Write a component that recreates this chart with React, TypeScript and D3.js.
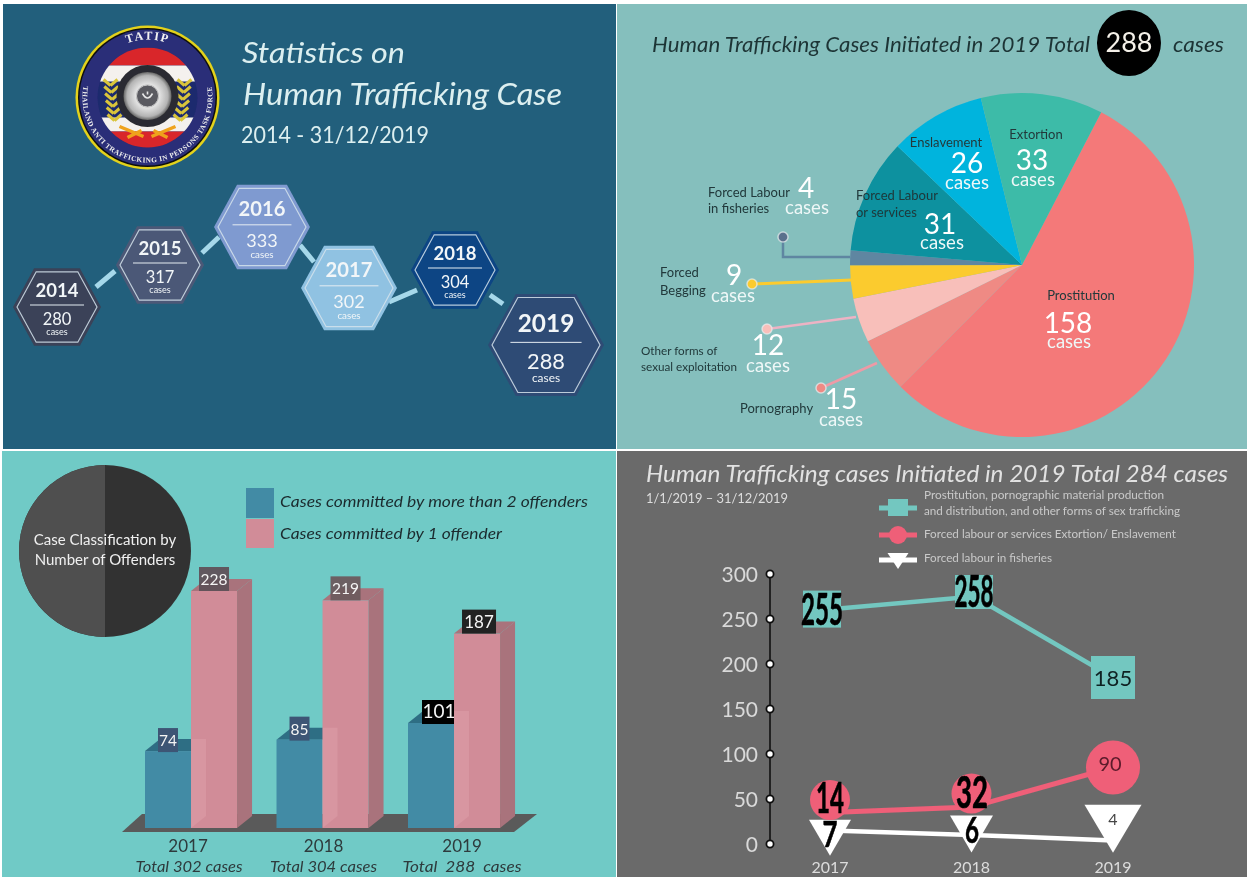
import React from "react";
import * as d3 from "d3";

// ---------- data ----------
const timelineYears = ["2014", "2015", "2016", "2017", "2018", "2019"];
const timelineCases = [280, 317, 333, 302, 304, 288];
const hexFills = ["#3A4258", "#4C5977", "#7F9AD0", "#90C2E2", "#0B4484", "#2F4B75"];

const pieNames = ["Prostitution", "Pornography", "Other", "Begging", "Fisheries", "Labour", "Enslavement", "Extortion"];
const pieValues = [158, 15, 12, 9, 4, 31, 26, 33];
const pieColors = ["#F47979", "#EF8A84", "#F8BFBA", "#FBCB2E", "#5E86A1", "#07919F", "#05B4DD", "#3DBBA8"];

const barYears = ["2017", "2018", "2019"];
const barTotals = ["Total 302 cases", "Total 304 cases", "Total  288  cases"];
const multiOffender = [74, 85, 101];
const singleOffender = [228, 219, 187];

const lineYears = ["2017", "2018", "2019"];
const axisTicks = [0, 50, 100, 150, 200, 250, 300];
const sexLabels = [255, 258, 185];
const labourLabels = [14, 32, 90];
const fisheryLabels = [7, 6, 4];
// heights the marks actually stand at on the printed axis (the infographic does not plot its labels to scale)
const sexLine = [260, 275, 185];
const sexMarker = [261, 280, 185];
const labourLine = [35, 41, 85];
const labourMarker = [49, 56, 85];
const fisheryLine = [15, 10, 4];
const fisheryMarker = [7, 11, 17];

// ---------- scales ----------
const hexX = d3.scaleOrdinal<string, number>(timelineYears, [57, 160, 262, 349, 455, 546]);
const hexY = d3.scaleOrdinal<string, number>(timelineYears, [307, 265, 227, 288, 270, 345]);
const hexR = d3.scaleOrdinal<string, number>(timelineYears, [44, 44, 48, 48, 44, 58]);
const linkOffsets = [[39, -20, -45, 6], [42, -12, -43, 10], [38, 18, -35, -26], [40, 14, -38, 20], [35, 25, -43, -41]];

const barX = d3.scaleBand<string>().domain(barYears).range([145, 145 + 131.5 * 3]).paddingInner(0).paddingOuter(0);
const barY = d3.scaleLinear().domain([0, 228]).range([828, 591]);

const lineY = d3.scaleLinear().domain([0, 300]).range([844, 574]);
const lineX = d3.scalePoint<string>().domain(lineYears).range([830, 1113]);
const sexX = d3.scaleOrdinal<string, number>(lineYears, [822, 974, 1113]);

const HEAD = "Lato, 'Open Sans', sans-serif";

function hexPoints(cx: number, cy: number, r: number) {
  const h = r * 0.88;
  const w = r * 0.52;
  return [[cx - r, cy], [cx - w, cy - h], [cx + w, cy - h], [cx + r, cy], [cx + w, cy + h], [cx - w, cy + h]].map((p) => p.join(",")).join(" ");
}

function Timeline() {
  const link = d3.line<[number, number]>();
  return (
    <g>
      {timelineYears.slice(1).map((y, i) => {
        const p = timelineYears[i];
        const o = linkOffsets[i];
        return <path key={y} d={link([[hexX(p) + o[0], hexY(p) + o[1]], [hexX(y) + o[2], hexY(y) + o[3]]]) || ""} stroke="#A6D8EA" strokeWidth={5} fill="none" />;
      })}
      {timelineYears.map((y, i) => {
        const cx = hexX(y), cy = hexY(y), r = hexR(y), s = r / 44;
        return (
          <g key={y} fontFamily={HEAD} textAnchor="middle" fill="#F2F6F8">
            <polygon points={hexPoints(cx, cy, r)} fill={hexFills[i]} />
            <polygon points={hexPoints(cx, cy, r - 4)} fill={hexFills[i]} stroke="#D5E3EC" strokeWidth={1.2} strokeOpacity={0.85} />
            <text x={cx} y={cy - 10 * s} fontSize={18.5 * s} fontWeight={700}>{y}</text>
            <line x1={cx - 27 * s} x2={cx + 27 * s} y1={cy - 2 * s} y2={cy - 2 * s} stroke="#E4ECF2" strokeWidth={1} />
            <text x={cx} y={cy + 18 * s} fontSize={16.5 * s}>{timelineCases[i]}</text>
            <text x={cx} y={cy + 28 * s} fontSize={9 * s}>cases</text>
          </g>
        );
      })}
    </g>
  );
}

function Logo() {
  const cx = 147.5, cy = 97.5;
  const leaves = d3.range(6);
  const a = (40 * Math.PI) / 180;
  const rr = 65;
  return (
    <g>
      <defs>
        <clipPath id="logoInner"><circle cx={cx} cy={cy} r={50} /></clipPath>
        <path id="logoTop" d={`M ${cx - 58} ${cy} A 58 58 0 0 1 ${cx + 58} ${cy}`} />
        <path id="logoBottom" d={`M ${cx - rr * Math.sin(a)} ${cy - rr * Math.cos(a)} A ${rr} ${rr} 0 1 0 ${cx + rr * Math.sin(a)} ${cy - rr * Math.cos(a)}`} />
        <radialGradient id="wheelGrad"><stop offset="0.3" stopColor="#666" /><stop offset="0.5" stopColor="#E2E2E2" /><stop offset="0.85" stopColor="#B4B4B4" /><stop offset="1" stopColor="#666" /></radialGradient>
      </defs>
      <circle cx={cx} cy={cy} r={72} fill="#E3D21A" />
      <circle cx={cx} cy={cy} r={69.5} fill="#111" />
      <circle cx={cx} cy={cy} r={68} fill="#2B2F78" />
      <text fontFamily="'Liberation Serif', serif" fontWeight={700} fontSize={12} fill="#F2F2F2" letterSpacing={1.5} textAnchor="middle">
        <textPath href="#logoTop" startOffset="50%">TATIP</textPath>
      </text>
      <text fontFamily="'Liberation Serif', serif" fontWeight={700} fontSize={7.2} fill="#EDEDED" textAnchor="middle" letterSpacing={0.5}>
        <textPath href="#logoBottom" startOffset="50%">THAILAND ANTI TRAFFICKING IN PERSONS TASK FORCE</textPath>
      </text>
      <g clipPath="url(#logoInner)">
        <rect x={cx - 51} y={cy - 52} width={102} height={104} fill="#1E2A6E" />
        <rect x={cx - 51} y={cy - 50} width={102} height={18} fill="#D9282B" />
        <rect x={cx - 51} y={cy - 32} width={102} height={16} fill="#F4F1EE" />
        <rect x={cx - 51} y={cy + 20} width={102} height={14} fill="#F4F1EE" />
        <rect x={cx - 51} y={cy + 34} width={102} height={18} fill="#D9282B" />
      </g>
      {leaves.map((k) => (
        <g key={k} stroke="#D9C43A" strokeWidth={3} fill="none">
          <path d={`M ${cx - 37 + k * 0.8} ${cy - 12 + k * 7} l -7 -6 M ${cx - 37 + k * 0.8} ${cy - 12 + k * 7} l 7 -6`} />
          <path d={`M ${cx + 37 - k * 0.8} ${cy - 12 + k * 7} l -7 -6 M ${cx + 37 - k * 0.8} ${cy - 12 + k * 7} l 7 -6`} />
        </g>
      ))}
      <path d={`M ${cx - 28} ${cy + 29} L ${cx - 4} ${cy + 39} M ${cx + 28} ${cy + 29} L ${cx + 4} ${cy + 39} M ${cx - 20} ${cy + 40} L ${cx - 6} ${cy + 33} M ${cx + 20} ${cy + 40} L ${cx + 6} ${cy + 33}`} stroke="#EFA21C" strokeWidth={3.5} />
      <circle cx={cx} cy={cy - 1.5} r={31} fill="#2C2C30" />
      <circle cx={cx} cy={cy - 1.5} r={24} fill="url(#wheelGrad)" />
      <circle cx={cx} cy={cy - 1.5} r={11} fill="#5A5A60" stroke="#C9C9C9" />
      <path d={`M ${cx - 5} ${cy - 4} q 5 9 10 0 M ${cx} ${cy - 6} v 3`} stroke="#E6E6E6" strokeWidth={1.6} fill="none" />
    </g>
  );
}

function PiePanel() {
  const cx = 1022, cy = 265, R = 172;
  const start = (27.4 * Math.PI) / 180;
  const arcs = d3.pie<number>().sort(null).startAngle(start).endAngle(start + 2 * Math.PI)(pieValues);
  const arc = d3.arc<d3.PieArcDatum<number>>().innerRadius(0).outerRadius(R);
  const dark = "#21393B";
  const big = (x: number, y: number, v: number, size = 28) => <text x={x} y={y} fontSize={size} fill="#FFFFFF" textAnchor="middle" fontFamily={HEAD}>{v}</text>;
  const cs = (x: number, y: number) => <text x={x} y={y} fontSize={18.5} fill="#EEF7F7" textAnchor="middle" fontFamily={HEAD}>cases</text>;
  const lab = (x: number, y: number, t: string, anchor = "start", size = 13) => <text x={x} y={y} fontSize={size} fill={dark} textAnchor={anchor} fontFamily={HEAD}>{t}</text>;
  const lead = d3.line<[number, number]>();
  const dot = (x: number, y: number, c: string) => <circle cx={x} cy={y} r={5} fill={c} stroke="#E9EEF0" strokeOpacity={0.7} strokeWidth={1.5} />;
  return (
    <g>
      <text x={652} y={52} fontSize={21} fontStyle="italic" fill="#1E3436" fontFamily={HEAD} textLength={438} lengthAdjust="spacingAndGlyphs">Human Trafficking Cases Initiated in 2019 Total</text>
      <ellipse cx={1129} cy={43} rx={32} ry={33} fill="#000" />
      <text x={1129} y={52} fontSize={27} fill="#F4F0E8" textAnchor="middle" fontFamily={HEAD}>288</text>
      <text x={1173} y={52} fontSize={21} fontStyle="italic" fill="#1E3436" fontFamily={HEAD} textLength={51} lengthAdjust="spacingAndGlyphs">cases</text>

      <g transform={`translate(${cx},${cy})`}>
        {arcs.map((a, i) => <path key={pieNames[i]} d={arc(a) || ""} fill={pieColors[i]} />)}
      </g>

      <path d={lead([[783, 237], [783, 257], [850, 257]]) || ""} stroke={pieColors[4]} strokeWidth={2.5} fill="none" />
      <path d={lead([[752, 284], [852, 280]]) || ""} stroke={pieColors[3]} strokeWidth={3} fill="none" />
      <path d={lead([[767, 329], [856, 317]]) || ""} stroke="#EDB3C4" strokeWidth={2.5} fill="none" />
      <path d={lead([[821, 388], [877, 363]]) || ""} stroke="#EE9AA6" strokeWidth={2.5} fill="none" />
      {dot(783, 237, "#5A6F8C")}
      {dot(752, 284, pieColors[3])}
      {dot(767, 329, pieColors[2])}
      {dot(821, 388, pieColors[1])}

      {lab(1036, 139, "Extortion", "middle")}
      {big(1032, 170, pieValues[7])}
      {cs(1033, 186)}
      {lab(946, 147, "Enslavement", "middle")}
      {big(967, 173, pieValues[6])}
      {cs(967, 189)}
      {lab(856, 200, "Forced  Labour")}
      {lab(856, 217, "or services")}
      {big(940, 234, pieValues[5])}
      {cs(942, 249)}
      {lab(708, 197, "Forced Labour")}
      {lab(708, 213, "in fisheries")}
      {big(806, 198, pieValues[4])}
      {cs(807, 214)}
      {lab(660, 277, "Forced")}
      {lab(660, 295, "Begging")}
      {big(734, 285, pieValues[3])}
      {cs(733, 302)}
      {lab(641, 355, "Other forms of", "start", 11.7)}
      {lab(641, 371, "sexual exploitation", "start", 11.7)}
      {big(768, 355, pieValues[2])}
      {cs(768, 372)}
      {lab(740, 413, "Pornography")}
      {big(841, 409, pieValues[1])}
      {cs(841, 426)}
      {lab(1081, 300, "Prostitution", "middle")}
      {big(1068, 333, pieValues[0])}
      {cs(1069, 348)}
    </g>
  );
}

function BarPanel() {
  const w = barX.bandwidth() * 0.35;
  const dx = 15, dy = 12;
  const tagFills = ["#3C5474", "#3C5474", "#000000"];
  const topFills = ["#5F5158", "#6C5A5E", "#222222"];
  const poly = (pts: number[][], c: string, o = 1) => <polygon points={pts.map((p) => p.join(",")).join(" ")} fill={c} fillOpacity={o} />;
  return (
    <g>
      <ellipse cx={105} cy={551} rx={86} ry={86} fill="#333333" />
      <path d="M105,465 A86,86 0 0,0 105,637 Z" fill="#4F4F4F" />
      <g fontFamily={HEAD} fontSize={15} fill="#EFEFEF" textAnchor="middle">
        <text x={105} y={545}>Case Classification by</text>
        <text x={105} y={565}>Number of Offenders</text>
      </g>
      <rect x={246} y={488} width={28} height={30} fill="#438BA5" />
      <rect x={246} y={519} width={28} height={29} fill="#D18C98" />
      <g fontFamily={HEAD} fontSize={15.5} fontStyle="italic" fill="#1B2B2E">
        <text x={280} y={507} textLength={308} lengthAdjust="spacingAndGlyphs">Cases committed by more than 2 offenders</text>
        <text x={280} y={539} textLength={222} lengthAdjust="spacingAndGlyphs">Cases committed by 1 offender</text>
      </g>
      <polygon points="122,832 514,832 537,814 142,814" fill="#5A5A5A" />
      {barYears.map((y, i) => {
        const x = barX(y) as number;
        const b0 = barY(0), t1 = barY(multiOffender[i]), t2 = barY(singleOffender[i]);
        const x1 = x + w, x2 = x + 2 * w;
        return (
          <g key={y}>
            {poly([[x, t1], [x1, t1], [x1 + dx, t1 - dy], [x + dx, t1 - dy]], "#2F6E84")}
            <rect x={x} y={t1} width={w} height={b0 - t1} fill="#438BA5" />
            <rect x={x + 13 + (i === 2 ? 1 : 0)} y={t1 - 23} width={i === 2 ? 33 : 20} height={24} fill={tagFills[i]} />
            <text x={x + (i === 2 ? 31 : 23)} y={t1 - 5} fontSize={i === 2 ? 19 : 15.5} fill="#F4F4F4" textAnchor="middle" fontFamily={HEAD}>{multiOffender[i]}</text>
            <rect x={x1} y={t2} width={w} height={b0 - t2} fill="#D18C98" />
            {poly([[x1, t1 - dy], [x1 + dx, t1 - dy], [x1 + dx, b0 - dy], [x1, b0]], "#E4A5B0", 0.4)}
            {poly([[x2, t2], [x2 + dx, t2 - dy], [x2 + dx, b0 - dy], [x2, b0]], "#A9737B")}
            {poly([[x1, t2], [x2, t2], [x2 + dx, t2 - dy], [x1 + dx, t2 - dy]], "#A9737B")}
            <rect x={x1 + 8} y={t2 - 24} width={30 + (i === 2 ? 4 : 0)} height={24} fill={topFills[i]} fillOpacity={i === 2 ? 1 : 0.95} />
            <text x={x1 + 23 + (i === 2 ? 2 : 0)} y={t2 - 6} fontSize={i === 2 ? 17 : 15.5} fill="#F4F4F4" textAnchor="middle" fontFamily={HEAD}>{singleOffender[i]}</text>
            <text x={x + w + (i === 0 ? -3 : i === 1 ? 1 : 8)} y={852} fontSize={17} fill="#2D3A3C" textAnchor="middle" fontFamily={HEAD}>{y}</text>
            <text x={x + w + (i === 0 ? -2 : i === 1 ? 1 : 8)} y={872} fontSize={15} fontStyle="italic" fill="#2D3A3C" textAnchor="middle" fontFamily={HEAD} xmlSpace="preserve" textLength={i === 2 ? 119 : 107} lengthAdjust="spacingAndGlyphs">{barTotals[i]}</text>
          </g>
        );
      })}
    </g>
  );
}

function LinePanel() {
  const line = d3.line<[number, number]>();
  const teal = "#73C7C0", red = "#EF5F78", white = "#FFFFFF";
  const bold = (x: number, y: number, t: number | string, size: number, len: number) => (
    <text x={x} y={y} fontSize={size} fontWeight={700} fill="#000" textAnchor="middle" textLength={len} lengthAdjust="spacingAndGlyphs" fontFamily={HEAD} stroke="#000" strokeWidth={0.6}>{t}</text>
  );
  const sqW = [38, 38, 44], sqH = [37, 34, 43];
  const cr = [20, 20, 27];
  const triW = [42, 43, 57], triH = [36, 37, 48];
  const tri = (x: number, y: number, tw: number, th: number) => `${x - tw / 2},${y - th / 2} ${x + tw / 2},${y - th / 2} ${x},${y + th / 2}`;
  return (
    <g>
      <text x={646} y={482} fontSize={22.5} fontStyle="italic" fill="#E2E2E2" fontFamily={HEAD} textLength={582} lengthAdjust="spacingAndGlyphs">Human Trafficking cases Initiated in 2019 Total 284 cases</text>
      <text x={646} y={503} fontSize={12.5} fill="#DDDDDD" fontFamily={HEAD} textLength={142} lengthAdjust="spacingAndGlyphs">1/1/2019 – 31/12/2019</text>
      <g fontFamily={HEAD} fontSize={10.5} fill="#C9C9C9">
        <text x={924} y={499} textLength={240} lengthAdjust="spacingAndGlyphs">Prostitution, pornographic material production</text>
        <text x={924} y={515} textLength={256} lengthAdjust="spacingAndGlyphs">and distribution, and other forms of sex trafficking</text>
        <text x={924} y={538} textLength={252} lengthAdjust="spacingAndGlyphs">Forced labour or services Extortion/ Enslavement</text>
        <text x={924} y={562} textLength={128} lengthAdjust="spacingAndGlyphs">Forced labour in fisheries</text>
      </g>
      <line x1={879} x2={917} y1={508} y2={508} stroke={teal} strokeWidth={5} />
      <rect x={888} y={499} width={20} height={17} fill={teal} />
      <line x1={879} x2={917} y1={535} y2={535} stroke={red} strokeWidth={5} />
      <circle cx={898} cy={535} r={9} fill={red} />
      <line x1={879} x2={917} y1={560} y2={560} stroke={white} strokeWidth={5} />
      <polygon points={tri(898, 561, 21, 16)} fill={white} />

      <line x1={770} x2={770} y1={lineY(300)} y2={lineY(0)} stroke="#222" strokeWidth={2} />
      {axisTicks.map((t) => (
        <g key={t}>
          <circle cx={770} cy={lineY(t)} r={3.6} fill="#FFF" stroke="#111" strokeWidth={1.8} />
          <text x={758} y={lineY(t) + 8} fontSize={21} fill="#D9D9D9" textAnchor="end" fontFamily={HEAD}>{t}</text>
        </g>
      ))}

      <path d={line(lineYears.map((y, i) => [sexX(y), lineY(sexLine[i])] as [number, number])) || ""} fill="none" stroke={teal} strokeWidth={4.5} />
      <path d={line(lineYears.map((y, i) => [lineX(y) as number, lineY(labourLine[i])] as [number, number])) || ""} fill="none" stroke={red} strokeWidth={5} />
      <path d={line(lineYears.map((y, i) => [lineX(y) as number, lineY(fisheryLine[i])] as [number, number])) || ""} fill="none" stroke={white} strokeWidth={4.5} />

      {lineYears.map((y, i) => (
        <rect key={y} x={sexX(y) - sqW[i] / 2} y={lineY(sexMarker[i]) - sqH[i] / 2} width={sqW[i]} height={sqH[i]} fill={teal} />
      ))}
      {lineYears.map((y, i) => (
        <polygon key={y} points={tri(lineX(y) as number, lineY(fisheryMarker[i]), triW[i], triH[i])} fill={white} />
      ))}
      {lineYears.map((y, i) => (
        <circle key={y} cx={lineX(y) as number} cy={lineY(labourMarker[i])} r={cr[i]} fill={red} />
      ))}

      {bold(822, 625, sexLabels[0], 44, 42)}
      {bold(974, 607, sexLabels[1], 44, 39)}
      <text x={1113} y={686} fontSize={22} fill="#102022" textAnchor="middle" fontFamily={HEAD}>{sexLabels[2]}</text>
      {bold(830, 813, labourLabels[0], 42, 28)}
      {bold(972, 808, labourLabels[1], 44, 32)}
      <text x={1110} y={771} fontSize={20} fill="#5A1A2A" textAnchor="middle" fontFamily={HEAD}>{labourLabels[2]}</text>
      {bold(830, 847, fisheryLabels[0], 36, 15)}
      {bold(972, 843, fisheryLabels[1], 36, 14)}
      <text x={1113} y={825} fontSize={16} fill="#444" textAnchor="middle" fontFamily={HEAD}>{fisheryLabels[2]}</text>
      {lineYears.map((y) => (
        <text key={y} x={lineX(y) as number} y={873} fontSize={16} fill="#DCDCDC" textAnchor="middle" fontFamily={HEAD}>{y}</text>
      ))}
    </g>
  );
}

export default function App() {
  return (
    <svg width={1247} height={877} viewBox="0 0 1247 877" style={{ position: "absolute", left: 0, top: 0 }}>
      <defs>
        <filter id="soft" x="0" y="0" width="100%" height="100%"><feGaussianBlur stdDeviation={0.5} /></filter>
      </defs>
      <rect width={1247} height={877} fill="#FFFFFF" />
      <g filter="url(#soft)">
        <rect x={3} y={4} width={613} height={445} fill="#235F7B" />
        <rect x={617} y={4} width={630} height={445} fill="#85BFBD" />
        <rect x={2} y={451} width={614} height={426} fill="#70CAC6" />
        <rect x={617} y={451} width={630} height={426} fill="#6B6B6B" />
        <Logo />
        <g fontFamily={HEAD} fill="#DCEFF0">
          <text x={242} y={63} fontSize={29} fontStyle="italic" textLength={163} lengthAdjust="spacingAndGlyphs">Statistics on</text>
          <text x={243} y={105} fontSize={30} fontStyle="italic" textLength={319} lengthAdjust="spacingAndGlyphs">Human Trafficking Case</text>
          <text x={241} y={143} fontSize={24} textLength={188} lengthAdjust="spacingAndGlyphs">2014 - 31/12/2019</text>
        </g>
        <Timeline />
        <PiePanel />
        <BarPanel />
        <LinePanel />
      </g>
    </svg>
  );
}
